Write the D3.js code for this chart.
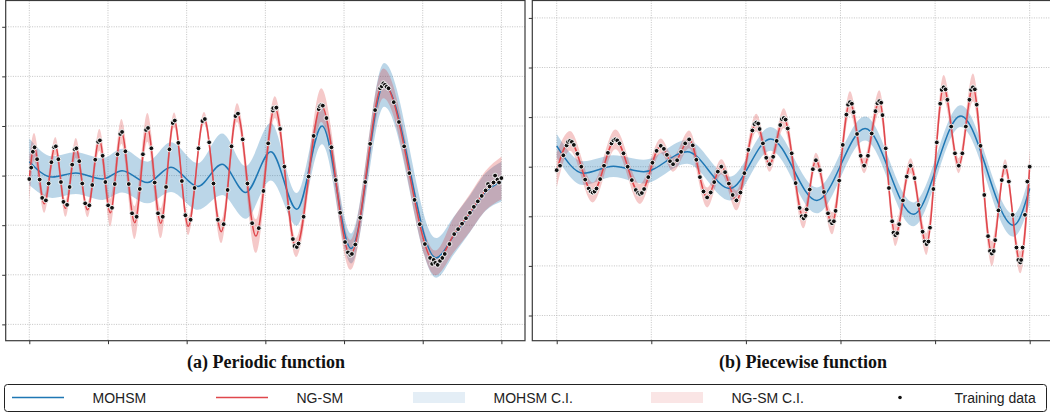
<!DOCTYPE html>
<html>
<head>
<meta charset="utf-8">
<script src="https://cdn.jsdelivr.net/npm/d3@7"></script>
<style>
  html, body { margin: 0; padding: 0; background: #fff; }
  svg { display: block; }
</style>
</head>
<body>
<script>
// ---------- (a) Periodic function ----------
// training observations
const periodicTrainX = [
  0.000, 0.024, 0.045,
  0.067, 0.099, 0.132, 0.164,
  0.211, 0.246, 0.281, 0.316,
  0.337, 0.369, 0.402, 0.434,
  0.480, 0.512, 0.545, 0.577,
  0.598, 0.635, 0.673, 0.710,
  0.763, 0.800, 0.838, 0.875,
  0.897, 0.932, 0.967, 1.002,
  1.051, 1.086, 1.121, 1.156,
  1.179, 1.221, 1.264, 1.306,
  1.364, 1.404, 1.444, 1.484,
  1.509, 1.551, 1.594, 1.636,
  1.696, 1.738, 1.781, 1.823,
  1.849, 1.894, 1.939, 1.984,
  2.050, 2.100, 2.150, 2.200,
  2.231, 2.286, 2.341, 2.396,
  2.470, 2.520, 2.570, 2.620,
  2.652, 2.712, 2.772, 2.832,
  2.916, 2.976, 3.036, 3.096,
  3.100, 3.134, 3.140, 3.188, 3.242, 3.296, 3.350,
  3.370, 3.400, 3.422, 3.486, 3.550, 3.614, 3.678,
  3.690, 3.710, 3.730, 3.777, 3.840, 3.895, 3.951, 4.013,
  4.050, 4.080, 4.100, 4.143, 4.206, 4.269, 4.332, 4.395, 4.458,
  4.480, 4.500, 4.520, 4.540, 4.566, 4.632, 4.698, 4.764, 4.830, 4.896, 4.962, 5.028, 5.094,
  5.120, 5.140, 5.160, 5.190, 5.220, 5.250, 5.280, 5.340,
  5.400, 5.450, 5.500, 5.550, 5.600, 5.650, 5.700, 5.750, 5.800, 5.830,
  5.850, 5.900, 5.920, 5.950, 5.970, 6.000
];
const periodicTrainY = [
  -0.07, 0.16, 0.48,
  0.57, 0.33, -0.08, -0.45,
  -0.50, -0.16, 0.27, 0.57,
  0.59, 0.33, -0.13, -0.53,
  -0.59, -0.23, 0.22, 0.53,
  0.55, 0.29, -0.16, -0.56,
  -0.60, -0.19, 0.32, 0.68,
  0.71, 0.40, -0.13, -0.60,
  -0.65, -0.17, 0.43, 0.84,
  0.88, 0.49, -0.17, -0.76,
  -0.83, -0.27, 0.43, 0.92,
  0.96, 0.55, -0.14, -0.76,
  -0.83, -0.23, 0.53, 1.06,
  1.11, 0.66, -0.11, -0.80,
  -0.89, -0.25, 0.55, 1.10,
  1.14, 0.67, -0.16, -0.89,
  -0.98, -0.29, 0.59, 1.20,
  1.25, 0.73, -0.16, -0.96,
  -1.06, -0.31, 0.65, 1.31,
  1.36, 1.36, 1.37, 0.94, 0.18, -0.65, -1.28,
  -1.42, -1.44, -1.37, -0.83, -0.02, 0.80, 1.34,
  1.40, 1.42, 1.41, 1.16, 0.57, -0.09, -0.75, -1.34,
  -1.55, -1.60, -1.58, -1.39, -0.85, -0.13, 0.64, 1.32, 1.76,
  1.80, 1.86, 1.83, 1.79, 1.76, 1.48, 1.08, 0.59, 0.05, -0.49, -0.98, -1.38, -1.66,
  -1.78, -1.70, -1.76, -1.80, -1.72, -1.66, -1.58, -1.38,
  -1.18, -1.08, -0.97, -0.86, -0.75, -0.63, -0.52, -0.41, -0.30, -0.17,
  -0.22, -0.14, 0.00, -0.08, -0.14, -0.05
];
// NG-SM posterior mean and C.I. half-width at the turning points
const periodicNgsmX = [0.00, 0.06, 0.19, 0.33, 0.46, 0.59, 0.74, 0.89, 1.03, 1.17, 1.34, 1.50, 1.67, 1.84,
  2.02, 2.22, 2.44, 2.64, 2.88, 3.12, 3.39, 3.71, 4.08, 4.50, 5.16, 5.40, 5.60, 5.80, 6.00];
const periodicNgsmMean = [-0.07, 0.58, -0.57, 0.60, -0.66, 0.56, -0.69, 0.72, -0.75, 0.89, -0.95, 0.97, -0.96, 1.12,
  -1.02, 1.16, -1.13, 1.27, -1.22, 1.38, -1.45, 1.42, -1.60, 1.86, -1.76, -1.18, -0.75, -0.30, -0.05];
const periodicNgsmHalf = [0.45, 0.28, 0.18, 0.18, 0.17, 0.20, 0.15, 0.22, 0.28, 0.25, 0.33, 0.29, 0.30, 0.15,
  0.18, 0.12, 0.23, 0.19, 0.34, 0.22, 0.19, 0.34, 0.30, 0.30, 0.25, 0.35, 0.38, 0.40, 0.43];
// MOHSM posterior mean and C.I. half-width
const periodicMohsmX = [0.00, 0.29, 0.59, 0.93, 1.18, 1.50, 1.80, 2.14, 2.45, 2.75, 3.07, 3.40, 3.72, 4.09, 4.51, 5.17,
  5.40, 5.60, 5.80, 6.00];
const periodicMohsmMean = [0.28, -0.03, 0.05, -0.07, 0.10, -0.14, 0.17, -0.22, 0.23, -0.34, 0.48, -0.68, 1.00, -1.47, 1.83, -1.66,
  -1.20, -0.77, -0.33, -0.12];
const periodicMohsmHalf = [0.47, 0.42, 0.42, 0.42, 0.44, 0.42, 0.50, 0.47, 0.62, 0.53, 0.58, 0.33, 0.37, 0.30, 0.44, 0.40,
  0.38, 0.37, 0.38, 0.40];

// ---------- (b) Piecewise function ----------
const piecewiseTrainX = [
  0.000, 0.035, 0.070, 0.105,
  0.120, 0.140, 0.160, 0.181, 0.219, 0.260, 0.301, 0.339,
  0.360, 0.380, 0.400, 0.421, 0.459, 0.500, 0.541, 0.579,
  0.600, 0.620, 0.640, 0.664, 0.706, 0.750, 0.794, 0.836,
  0.860, 0.880, 0.900, 0.924, 0.968, 1.012, 1.056,
  1.100, 1.133, 1.165, 1.198,
  1.230, 1.273, 1.315, 1.358,
  1.400, 1.438, 1.476, 1.514, 1.552,
  1.590, 1.628, 1.665, 1.703,
  1.740, 1.780, 1.820, 1.860,
  1.900, 1.942, 1.984, 2.026, 2.068,
  2.090, 2.110, 2.130, 2.145, 2.180, 2.215,
  2.250, 2.288, 2.325, 2.363,
  2.380, 2.400, 2.420, 2.442, 2.484, 2.526, 2.568,
  2.590, 2.610, 2.630, 2.643, 2.675, 2.708,
  2.740, 2.783, 2.825, 2.868,
  2.890, 2.910, 2.930, 2.948, 2.986, 3.024, 3.062,
  3.080, 3.100, 3.120, 3.138, 3.175, 3.213,
  3.250, 3.290, 3.330, 3.370,
  3.390, 3.410, 3.430, 3.444, 3.478, 3.512, 3.546,
  3.560, 3.580, 3.600, 3.620, 3.660, 3.700,
  3.740, 3.783, 3.825, 3.868,
  3.890, 3.910, 3.930, 3.946, 3.982, 4.018, 4.054,
  4.070, 4.090, 4.110, 4.130, 4.170, 4.210,
  4.250, 4.288, 4.325, 4.363,
  4.380, 4.400, 4.420, 4.440, 4.480, 4.520, 4.560,
  4.580, 4.600, 4.620, 4.635, 4.670, 4.705,
  4.740, 4.780, 4.820, 4.860,
  4.880, 4.900, 4.910, 4.925, 4.950, 4.975, 5.000
];
const piecewiseTrainY = [
  -0.07, 0.02, 0.23, 0.43,
  0.50, 0.52, 0.50, 0.44, 0.26, 0.00, -0.26, -0.44,
  -0.50, -0.52, -0.50, -0.44, -0.25, 0.02, 0.28, 0.47,
  0.53, 0.55, 0.53, 0.47, 0.27, 0.00, -0.27, -0.47,
  -0.53, -0.55, -0.53, -0.45, -0.21, 0.08, 0.32,
  0.42, 0.36, 0.24, 0.11,
  0.05, 0.13, 0.30, 0.47,
  0.55, 0.43, 0.14, -0.21, -0.50,
  -0.62, -0.52, -0.31, -0.10,
  0.00, -0.11, -0.34, -0.57,
  -0.68, -0.52, -0.13, 0.34, 0.73,
  0.86, 0.89, 0.87, 0.76, 0.47, 0.18,
  0.05, 0.20, 0.52, 0.84,
  0.96, 0.98, 0.95, 0.77, 0.27, -0.33, -0.83,
  -1.00, -1.04, -0.99, -0.86, -0.46, -0.05,
  0.13, -0.07, -0.51, -0.94,
  -1.10, -1.14, -1.10, -0.89, -0.28, 0.44, 1.05,
  1.25, 1.30, 1.27, 1.10, 0.66, 0.22,
  0.02, 0.22, 0.67, 1.12,
  1.28, 1.32, 1.29, 1.04, 0.37, -0.43, -1.10,
  -1.33, -1.38, -1.34, -1.16, -0.68, -0.20,
  0.02, -0.23, -0.77, -1.31,
  -1.51, -1.56, -1.51, -1.23, -0.45, 0.49, 1.27,
  1.55, 1.60, 1.56, 1.35, 0.81, 0.27,
  0.02, 0.27, 0.81, 1.35,
  1.55, 1.60, 1.56, 1.25, 0.42, -0.57, -1.40,
  -1.70, -1.75, -1.70, -1.48, -0.88, -0.27,
  0.00, -0.30, -0.97, -1.63,
  -1.88, -1.93, -1.88, -1.63, -0.97, -0.30, 0.00
];
const piecewiseNgsmX = [0.00, 0.14, 0.38, 0.62, 0.88, 1.10, 1.23, 1.40, 1.59, 1.74, 1.90, 2.11, 2.25, 2.40, 2.61,
  2.74, 2.91, 3.10, 3.25, 3.41, 3.58, 3.74, 3.91, 4.09, 4.25, 4.40, 4.60, 4.74, 4.90, 5.00];
const piecewiseNgsmMean = [-0.07, 0.52, -0.52, 0.55, -0.55, 0.42, 0.05, 0.55, -0.62, 0.00, -0.68, 0.89, 0.05, 0.98, -1.04,
  0.13, -1.14, 1.30, 0.02, 1.32, -1.38, 0.02, -1.56, 1.60, 0.02, 1.60, -1.75, 0.00, -1.93, 0.00];
const piecewiseNgsmHalf = [0.35, 0.20, 0.20, 0.20, 0.20, 0.15, 0.15, 0.18, 0.20, 0.15, 0.20, 0.18, 0.15, 0.20, 0.20,
  0.15, 0.22, 0.22, 0.15, 0.22, 0.22, 0.15, 0.22, 0.25, 0.15, 0.28, 0.25, 0.15, 0.22, 0.35];
const piecewiseMohsmX = [0.00, 0.28, 0.60, 0.92, 1.38, 1.83, 2.26, 2.75, 3.26, 3.77, 4.27, 4.83, 5.00];
const piecewiseMohsmMean = [0.42, -0.13, 0.01, -0.10, 0.30, -0.44, 0.56, -0.68, 0.77, -0.96, 1.02, -1.18, -0.44];
const piecewiseMohsmHalf = [0.24, 0.24, 0.22, 0.24, 0.24, 0.24, 0.24, 0.26, 0.24, 0.24, 0.22, 0.23, 0.30];

// axis ticks / labels
const periodicXTicks = [0, 1, 2, 3, 4, 5, 6];
const piecewiseXTicks = [0, 1, 2, 3, 4, 5];
const yTicks = [-3, -2, -1, 0, 1, 2, 3];
const panelTitles = ["(a) Periodic function", "(b) Piecewise function"];
const legendLabels = ["MOHSM", "NG-SM", "MOHSM C.I.", "NG-SM C.I.", "Training data"];

// ---------- styles ----------
const BLUE = "#1f77b4";
const RED = "#e0474c";
const RED_FILL = "#d62728";

const W = 1050, H = 415;
const svg = d3.select("body").append("svg").attr("width", W).attr("height", H);

function zip(xs, ys) { return xs.map((x, i) => [x, ys[i]]); }

function drawPanel(id, cfg) {
  const x = d3.scaleLinear().domain(cfg.xDomain).range(cfg.xRange);
  const y = d3.scaleLinear().domain(cfg.yDomain).range([340.7, 0.5]);
  const [x0, x1] = cfg.xRange;

  svg.append("clipPath").attr("id", "clip-" + id)
    .append("rect").attr("x", x0).attr("y", 0.5).attr("width", x1 - x0).attr("height", 340.2);

  const g = svg.append("g");

  // grid
  const grid = g.append("g").attr("stroke", "#b4b4b4").attr("stroke-width", 0.8)
    .attr("stroke-dasharray", "1,1.4");
  grid.selectAll(".vx").data(cfg.xTicks).join("line")
    .attr("x1", d => x(d)).attr("x2", d => x(d)).attr("y1", 0.5).attr("y2", 340.7);
  grid.selectAll(".hy").data(yTicks).join("line")
    .attr("x1", x0).attr("x2", x1).attr("y1", d => y(d)).attr("y2", d => y(d));

  const plot = g.append("g").attr("clip-path", `url(#clip-${id})`);

  const band = (xs, m, h) => xs.map((v, i) => ({ x: v, lo: m[i] - h[i], hi: m[i] + h[i] }));
  const area = d3.area().x(d => x(d.x)).y0(d => y(d.lo)).y1(d => y(d.hi)).curve(d3.curveMonotoneX);
  const line = d3.line().x(d => x(d[0])).y(d => y(d[1])).curve(d3.curveMonotoneX);

  plot.append("path").attr("d", area(band(cfg.mohsmX, cfg.mohsmMean, cfg.mohsmHalf)))
    .attr("fill", BLUE).attr("fill-opacity", 0.3);
  plot.append("path").attr("d", area(band(cfg.ngsmX, cfg.ngsmMean, cfg.ngsmHalf)))
    .attr("fill", RED_FILL).attr("fill-opacity", 0.25);
  plot.append("path").attr("d", line(zip(cfg.mohsmX, cfg.mohsmMean)))
    .attr("fill", "none").attr("stroke", BLUE).attr("stroke-width", 1.5);
  plot.append("path").attr("d", line(zip(cfg.ngsmX, cfg.ngsmMean)))
    .attr("fill", "none").attr("stroke", RED).attr("stroke-width", 1.5);

  plot.selectAll("circle").data(zip(cfg.trainX, cfg.trainY)).join("circle")
    .attr("cx", d => x(d[0])).attr("cy", d => y(d[1])).attr("r", 2.4)
    .attr("fill", "#111").attr("stroke", "#fff").attr("stroke-width", 0.9);

  // axes (tick marks only)
  g.append("g").attr("transform", "translate(0,340.7)")
    .call(d3.axisBottom(x).tickValues(cfg.xTicks).tickSize(3.5).tickSizeOuter(0).tickFormat(""))
    .call(a => a.select(".domain").remove())
    .call(a => a.selectAll("line").attr("stroke", "#333"));
  g.append("g").attr("transform", `translate(${x0},0)`)
    .call(d3.axisLeft(y).tickValues(yTicks).tickSize(3.5).tickSizeOuter(0).tickFormat(""))
    .call(a => a.select(".domain").remove())
    .call(a => a.selectAll("line").attr("stroke", "#333"));

  g.append("rect").attr("x", x0).attr("y", 0.5).attr("width", x1 - x0).attr("height", 340.2)
    .attr("fill", "none").attr("stroke", "#3a3a3a").attr("stroke-width", 1.2);

  svg.append("text").attr("x", cfg.titleX).attr("y", 368)
    .attr("text-anchor", "middle")
    .attr("font-family", "'Liberation Serif', 'Times New Roman', serif")
    .attr("font-weight", "bold").attr("font-size", 18).attr("fill", "#111")
    .text(cfg.title);
}

drawPanel("a", {
  xDomain: [-0.3, 6.3], xRange: [5.7, 525], yDomain: [-3.329, 3.530], xTicks: periodicXTicks,
  trainX: periodicTrainX, trainY: periodicTrainY,
  ngsmX: periodicNgsmX, ngsmMean: periodicNgsmMean, ngsmHalf: periodicNgsmHalf,
  mohsmX: periodicMohsmX, mohsmMean: periodicMohsmMean, mohsmHalf: periodicMohsmHalf,
  title: panelTitles[0], titleX: 266
});
drawPanel("b", {
  xDomain: [-0.258, 5.258], xRange: [532.3, 1054.1], yDomain: [-3.508, 3.351], xTicks: piecewiseXTicks,
  trainX: piecewiseTrainX, trainY: piecewiseTrainY,
  ngsmX: piecewiseNgsmX, ngsmMean: piecewiseNgsmMean, ngsmHalf: piecewiseNgsmHalf,
  mohsmX: piecewiseMohsmX, mohsmMean: piecewiseMohsmMean, mohsmHalf: piecewiseMohsmHalf,
  title: panelTitles[1], titleX: 803
});

// ---------- legend ----------
const lg = svg.append("g");
lg.append("rect").attr("x", 4.5).attr("y", 384.5).attr("width", 1042).attr("height", 27)
  .attr("rx", 3).attr("fill", "#fff").attr("stroke", "#222").attr("stroke-width", 1);
const handleX = [12, 216, 413, 651, 874];
const ly = 397.5;
legendLabels.forEach((lab, i) => {
  const hx = handleX[i];
  if (i === 0 || i === 1) {
    lg.append("line").attr("x1", hx).attr("x2", hx + 52).attr("y1", ly).attr("y2", ly)
      .attr("stroke", i === 0 ? BLUE : RED).attr("stroke-width", 1.3);
  } else if (i === 2 || i === 3) {
    lg.append("rect").attr("x", hx).attr("y", ly - 5.5).attr("width", 52).attr("height", 11)
      .attr("fill", i === 2 ? BLUE : RED_FILL).attr("fill-opacity", 0.12);
  } else {
    lg.append("circle").attr("cx", hx + 26).attr("cy", ly).attr("r", 1.8).attr("fill", "#111");
  }
  lg.append("text").attr("x", hx + 80.5).attr("y", 402.5)
    .attr("font-family", "'Liberation Sans', Arial, sans-serif").attr("font-size", 14)
    .attr("fill", "#222").text(lab);
});
</script>
</body>
</html>
